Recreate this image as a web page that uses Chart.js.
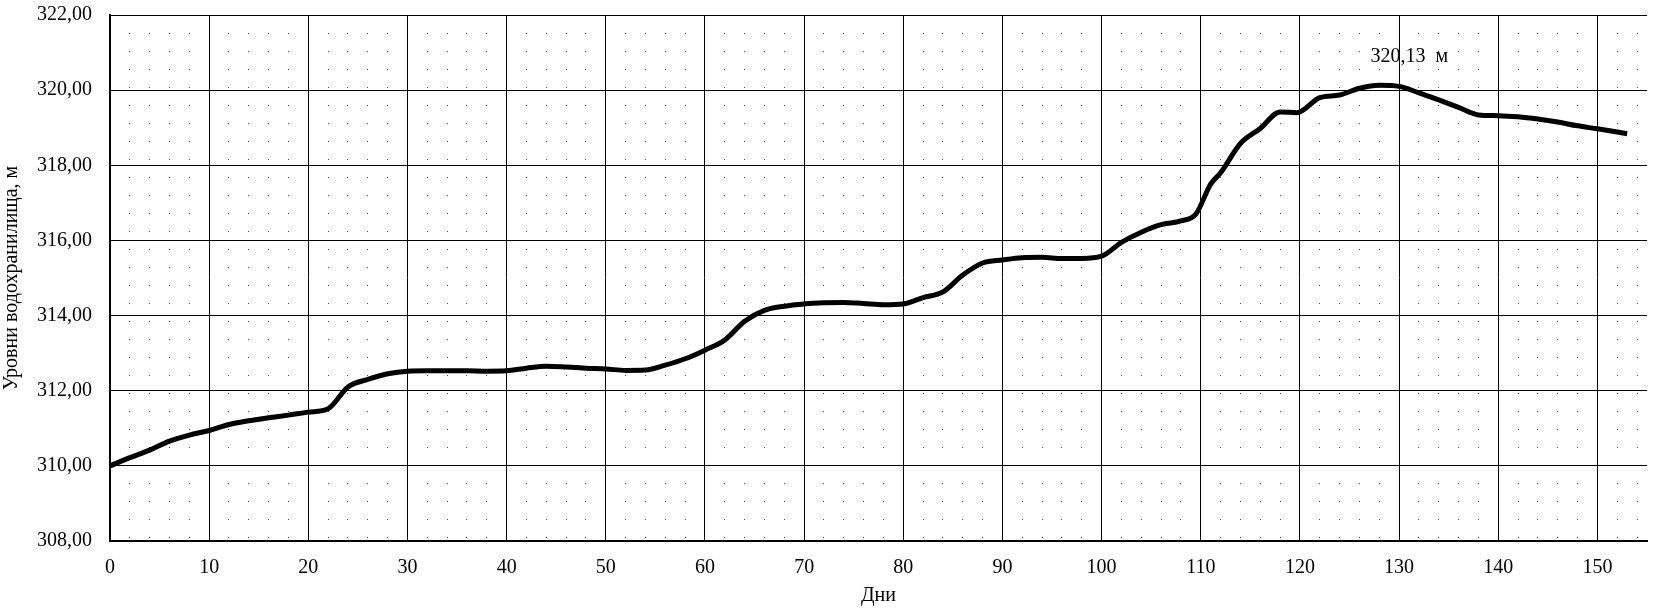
<!DOCTYPE html>
<html>
<head>
<meta charset="utf-8">
<script src="https://cdn.jsdelivr.net/npm/chart.js@4"></script>
<style>
  html, body { margin: 0; padding: 0; background: #fff; }
  #wrap { width: 1654px; height: 614px; }
</style>
</head>
<body>
<div id="wrap"><canvas id="myChart" width="1654" height="614"></canvas></div>
<script>
// water level of the reservoir
let days = [0, 2, 4, 6, 8, 10, 12, 14, 16, 18, 20, 22, 24, 26, 28, 30, 32, 34, 36, 38,
  40, 42, 44, 46, 48, 50, 52, 54, 56, 58, 60, 62, 64, 66, 68, 70, 72, 74, 76, 78,
  80, 82, 84, 86, 88, 90, 92, 94, 96, 98, 100, 102, 104, 106, 108, 109.5, 111, 112,
  114, 116, 118, 119.7, 122, 124, 126, 128, 130, 132, 134, 136, 138, 140, 142, 144,
  146, 148, 150, 153];
let levels = [310.00, 310.22, 310.42, 310.66, 310.82, 310.94, 311.10, 311.20, 311.28, 311.35,
  311.43, 311.52, 312.10, 312.30, 312.45, 312.52, 312.53, 312.53, 312.53, 312.52,
  312.53, 312.60, 312.65, 312.63, 312.60, 312.58, 312.54, 312.55, 312.68, 312.85,
  313.08, 313.35, 313.85, 314.14, 314.25, 314.31, 314.34, 314.35, 314.32, 314.29,
  314.31, 314.48, 314.63, 315.08, 315.40, 315.48, 315.54, 315.55, 315.52, 315.52,
  315.58, 315.95, 316.22, 316.42, 316.52, 316.70, 317.50, 317.80,
  318.58, 318.98, 319.42, 319.40, 319.80, 319.87, 320.05, 320.13, 320.10, 319.93,
  319.74, 319.54, 319.34, 319.32, 319.29, 319.23, 319.15, 319.05, 318.97, 318.84];
let peakLabel = "320,13  м";

let points = days.map(function (d, i) { return { x: d, y: levels[i] }; });

const serif = "'Liberation Serif', 'Times New Roman', serif";

// text over the highest point
const peakText = {
  id: 'peakText',
  afterDatasetsDraw(chart) {
    let i = levels.indexOf(Math.max.apply(null, levels));
    let px = chart.scales.x.getPixelForValue(days[i]);
    let py = chart.scales.y.getPixelForValue(levels[i]);
    let c = chart.ctx;
    c.save();
    c.font = "20px " + serif;
    c.fillStyle = '#000';
    c.textAlign = 'center';
    c.textBaseline = 'middle';
    c.fillText(peakLabel, px + 30, py - 29);
    c.restore();
  }
};

var ctx = document.getElementById('myChart').getContext('2d');
var myChart = new Chart(ctx, {
  type: 'line',
  data: {
    datasets: [{
      data: points,
      borderColor: '#000',
      borderWidth: 5,
      pointRadius: 0,
      cubicInterpolationMode: 'monotone',
      fill: false
    }]
  },
  options: {
    responsive: false,
    animation: false,
    layout: { autoPadding: false, padding: { top: 15, right: 7, bottom: 0, left: 0 } },
    plugins: { legend: { display: false }, tooltip: { enabled: false } },
    scales: {
      xMinor: {
        type: 'linear', position: 'bottom', min: 0, max: 155,
        ticks: { display: false, stepSize: 2, includeBounds: false },
        grid: { color: 'rgba(0,0,0,0.7)', lineWidth: 1, drawTicks: false },
        border: { display: false, dash: [1, 17] },
        afterFit: function (s) { s.height = 0; s.paddingLeft = 0; s.paddingRight = 0; }
      },
      x: {
        type: 'linear', min: 0, max: 155,
        ticks: {
          stepSize: 10, includeBounds: false, color: '#000', padding: 15,
          font: { family: serif, size: 20 }
        },
        grid: { color: '#000', lineWidth: 1, drawTicks: false },
        border: { color: '#000', width: 2 },
        title: { display: true, text: 'Дни', color: '#000', font: { family: serif, size: 20 }, padding: { top: 2, bottom: 6 } },
        afterFit: function (s) { s.height = 73; s.paddingLeft = 0; s.paddingRight = 0; }
      },
      y: {
        min: 308, max: 322,
        ticks: {
          stepSize: 2, color: '#000', padding: 18,
          font: { family: serif, size: 20 },
          callback: function (v) { return v.toFixed(2).replace('.', ','); }
        },
        grid: { color: '#000', lineWidth: 1, drawTicks: false },
        border: { color: '#000', width: 2 },
        title: { display: true, text: 'Уровни водохранилища, м', color: '#000', font: { family: serif, size: 20 }, padding: { top: 0, bottom: 0 } },
        afterFit: function (s) { s.width = 110; s.paddingTop = 0; s.paddingBottom = 0; }
      }
    }
  },
  plugins: [peakText]
});
</script>
</body>
</html>
